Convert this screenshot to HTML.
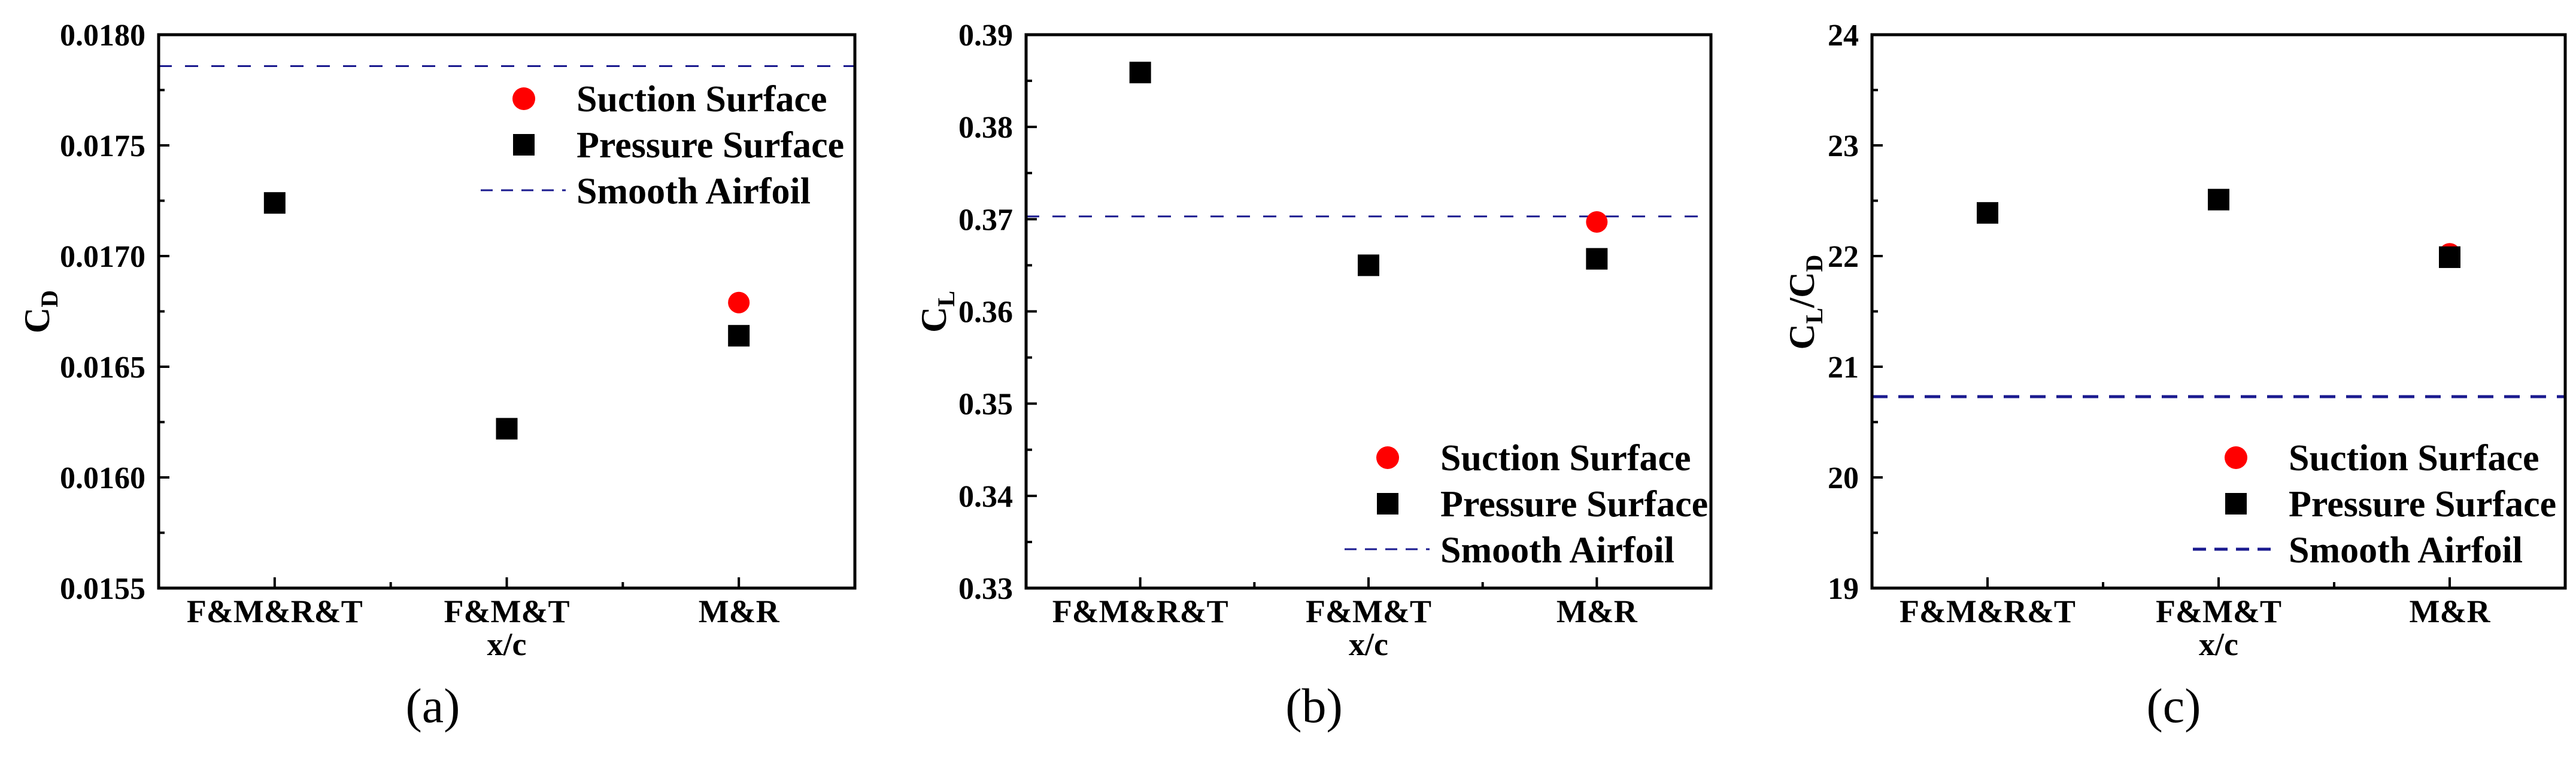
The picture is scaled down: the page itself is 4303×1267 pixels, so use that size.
<!DOCTYPE html>
<html><head><meta charset="utf-8"><style>
html,body{margin:0;padding:0;background:#fff;}
svg, svg text{font-family:"Liberation Serif","Times New Roman",serif;}
</style></head><body>
<svg id="fig" width="4303" height="1262" viewBox="0 0 4303 1262" xmlns="http://www.w3.org/2000/svg" font-family="Liberation Serif, serif"></svg>
<script>
const categories = ["F&M&R&T","F&M&T","M&R"];
// panel a: CD
const cdSuction = [null, null, 0.01679];
const cdPressure = [0.01724, 0.01622, 0.01664];
const cdSmooth = 0.017858;
const cdTicks = ["0.0155","0.0160","0.0165","0.0170","0.0175","0.0180"];
// panel b: CL
const clSuction = [null, null, 0.3697];
const clPressure = [0.3859, 0.3650, 0.3657];
const clSmooth = 0.3703;
const clTicks = ["0.33","0.34","0.35","0.36","0.37","0.38","0.39"];
// panel c: CL/CD
const ldSuction = [null, null, 22.02];
const ldPressure = [22.39, 22.51, 21.99];
const ldSmooth = 20.73;
const ldTicks = ["19","20","21","22","23","24"];

const NS = "http://www.w3.org/2000/svg";
const svg = document.getElementById("fig");
const FF = "Liberation Serif, serif";
function mk(tag, attrs, parent){
  const e = document.createElementNS(NS, tag);
  for (const k in attrs) e.setAttribute(k, attrs[k]);
  (parent||svg).appendChild(e);
  return e;
}
function txt(s, attrs, parent){ attrs["font-family"] = FF; const t = mk("text", attrs, parent); t.textContent = s; return t; }

function panel(cfg){
  const g = mk("g", {});
  
  
  const L = cfg.left, R = cfg.right, T = 58, B = 983;
  const ymin = parseFloat(cfg.ticks[0]), ymax = parseFloat(cfg.ticks[cfg.ticks.length-1]);
  const ys = v => B - (v - ymin) / (ymax - ymin) * (B - T);
  const xs = i => L + (i + 0.5) / categories.length * (R - L);
  const sl = mk("line", {x1:L, x2:R, y1:ys(cfg.smooth), y2:ys(cfg.smooth), stroke:"#1a1a8f", "stroke-width":cfg.dashW, "stroke-dasharray":cfg.dash}, g);
  
  
  const fr = mk("rect", {x:L, y:T, width:R-L, height:B-T, fill:"none", stroke:"#000", "stroke-width":5}, g);
  
  
  cfg.ticks.forEach((t, i) => {
    const v = parseFloat(t), y = ys(v);
    mk("line", {x1:L, x2:L+18, y1:y, y2:y, stroke:"#000", "stroke-width":4}, g);
    if (i < cfg.ticks.length - 1) {
      const ym = ys(v + (parseFloat(cfg.ticks[1]) - parseFloat(cfg.ticks[0])) / 2);
      mk("line", {x1:L, x2:L+10, y1:ym, y2:ym, stroke:"#000", "stroke-width":4}, g);
    }
    const tl = txt(t, {x:L-22, y:y+18, "text-anchor":"end", "font-size":52, "font-weight":"bold"}, g);
    
    
  });
  categories.forEach((c, i) => {
    const x = xs(i);
    mk("line", {x1:x, x2:x, y1:B, y2:B-18, stroke:"#000", "stroke-width":4}, g);
    if (i < categories.length - 1) {
      const xm = L + (i + 1) / categories.length * (R - L);
      mk("line", {x1:xm, x2:xm, y1:B, y2:B-10, stroke:"#000", "stroke-width":4}, g);
    }
    const xl = txt(c, {x:x, y:1040, "text-anchor":"middle", "font-size":54, "font-weight":"bold"}, g);
    
    
  });
  const xt = txt("x/c", {x:(L+R)/2, y:1095, "text-anchor":"middle", "font-size":54, "font-weight":"bold"}, g);
  
  
  const yt = mk("text", {transform:`translate(${cfg.ytx},${cfg.yty}) rotate(-90)`, "text-anchor":"middle", "font-size":60, "font-weight":"bold", "font-family":FF}, g);
  
  
  yt.innerHTML = cfg.ytitle;
  cfg.pressure.forEach((v, i) => {
    if (v == null) return;
    const s = mk("rect", {x:xs(i)-18, y:ys(v)-18, width:36, height:36, fill:"#000"}, g);
    
    
  });
  cfg.suction.forEach((v, i) => {
    if (v == null) return;
    const c = mk("circle", {cx:xs(i), cy:ys(v), r:18, fill:"#ff0000"}, g);
    
    
  });
  if (cfg.pressureOnTop) cfg.pressure.forEach((v, i) => {
    if (v == null || cfg.suction[i] == null) return;
    mk("rect", {x:xs(i)-18, y:ys(v)-18, width:36, height:36, fill:"#000"}, g);
  });
  const lg = mk("g", {}, g);
  
  
  const ly = cfg.legY, mx = cfg.legX;
  mk("circle", {cx:mx, cy:ly, r:19, fill:"#ff0000"}, lg);
  mk("rect", {x:mx-18, y:ly+77-18, width:36, height:36, fill:"#000"}, lg);
  mk("line", {x1:mx-72, x2:mx+70, y1:ly+153, y2:ly+153, stroke:"#1a1a8f", "stroke-width":cfg.dashW, "stroke-dasharray":cfg.legDash}, lg);
  ["Suction Surface","Pressure Surface","Smooth Airfoil"].forEach((s, k) => {
    const e = txt(s, {x:mx+88, y:ly+k*77+21, "font-size":62, "font-weight":"bold"}, lg);
    
    
  });
  const cap = txt(cfg.cap, {x:cfg.capX, y:1207, "text-anchor":"middle", "font-size":82}, g);
  
  
}

panel({name:"panel-a-cd", left:265, right:1428, ticks:cdTicks, smooth:cdSmooth, suction:cdSuction, pressure:cdPressure,
  dash:"22 22", dashW:3, legDash:"20 14", legX:875, legY:165, ytx:82, yty:521,
  ytitle:'C<tspan font-size="40" dy="14">D</tspan>', cap:"(a)", capX:723});
panel({name:"panel-b-cl", left:1714, right:2858, ticks:clTicks, smooth:clSmooth, suction:clSuction, pressure:clPressure,
  dash:"22 22", dashW:3, legDash:"20 14", legX:2318, legY:765, ytx:1580, yty:521,
  ytitle:'C<tspan font-size="40" dy="14">L</tspan>', cap:"(b)", capX:2195});
panel({name:"panel-c-clcd", left:3127, right:4285, ticks:ldTicks, smooth:ldSmooth, suction:ldSuction, pressure:ldPressure,
  dash:"26 18", dashW:5, legDash:"22 14", legX:3735, legY:765, ytx:3030, yty:505, pressureOnTop:true,
  ytitle:'C<tspan font-size="40" dy="14">L</tspan><tspan dy="-14">/C</tspan><tspan font-size="40" dy="14">D</tspan>', cap:"(c)", capX:3631});
</script>
</body></html>
